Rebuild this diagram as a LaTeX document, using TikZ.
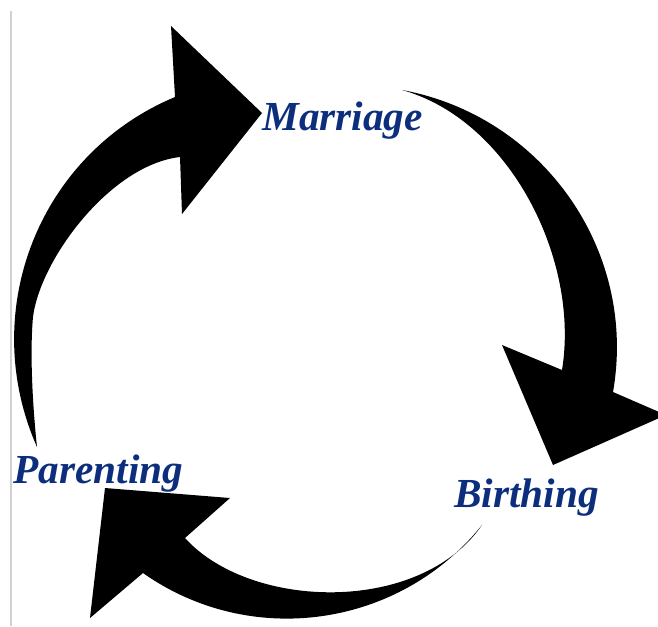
\documentclass[tikz,border=0pt]{standalone}
\usepackage{fontspec}
\setmainfont{Liberation Serif}
\usepackage{xcolor}
\usepackage{tikz}
\usetikzlibrary{positioning}
\definecolor{stageblue}{RGB}{12,46,125}
\tikzstyle{stage} = [text=stageblue, font=\bfseries\itshape\fontsize{23.5}{28}\selectfont, inner sep=0pt]
\tikzstyle{bigarrow} = [fill=black]

\begin{document}
\begin{tikzpicture}[x=0.02cm, y=-0.02cm]
                \useasboundingbox (0,0) rectangle (658,626);
                \draw[black!18, line width=0.6pt] (11,11) -- (11,626);
                % stages
                \node[stage, anchor=base west] (marriage) at (262,130) {Marriage};
                \node[stage, anchor=base west] (birthing) at (454,507) {Birthing};
                \node[stage, anchor=base west] (parenting) at (13,483) {Parenting};
                % parenting -> marriage
                \fill[bigarrow] (37,447) .. controls (-22.8,311.6) and (38.5,154) .. (175,97)
                    -- (171,26) -- (262,113) -- (182,214) -- (180,157)
                    .. controls (110,165) and (40,260) .. (33,317)
                    .. controls (30,350) and (32,400) .. (37,447) -- cycle;
                % marriage -> birthing
                \fill[bigarrow] (402,90) .. controls (543,116) and (637.7,250.8) .. (613,392)
                    -- (666,415) -- (553,465) -- (502,345) -- (562,370)
                    .. controls (580,260) and (510,120) .. (402,90) -- cycle;
                % birthing -> parenting
                \fill[bigarrow] (482,525) .. controls (399.6,627.9) and (250.7,649) .. (143,573)
                    -- (90,618) -- (105,488) -- (230,498) -- (185,538)
                    .. controls (250,610) and (420,615) .. (482,525) -- cycle;
            \end{tikzpicture}
\end{document}
